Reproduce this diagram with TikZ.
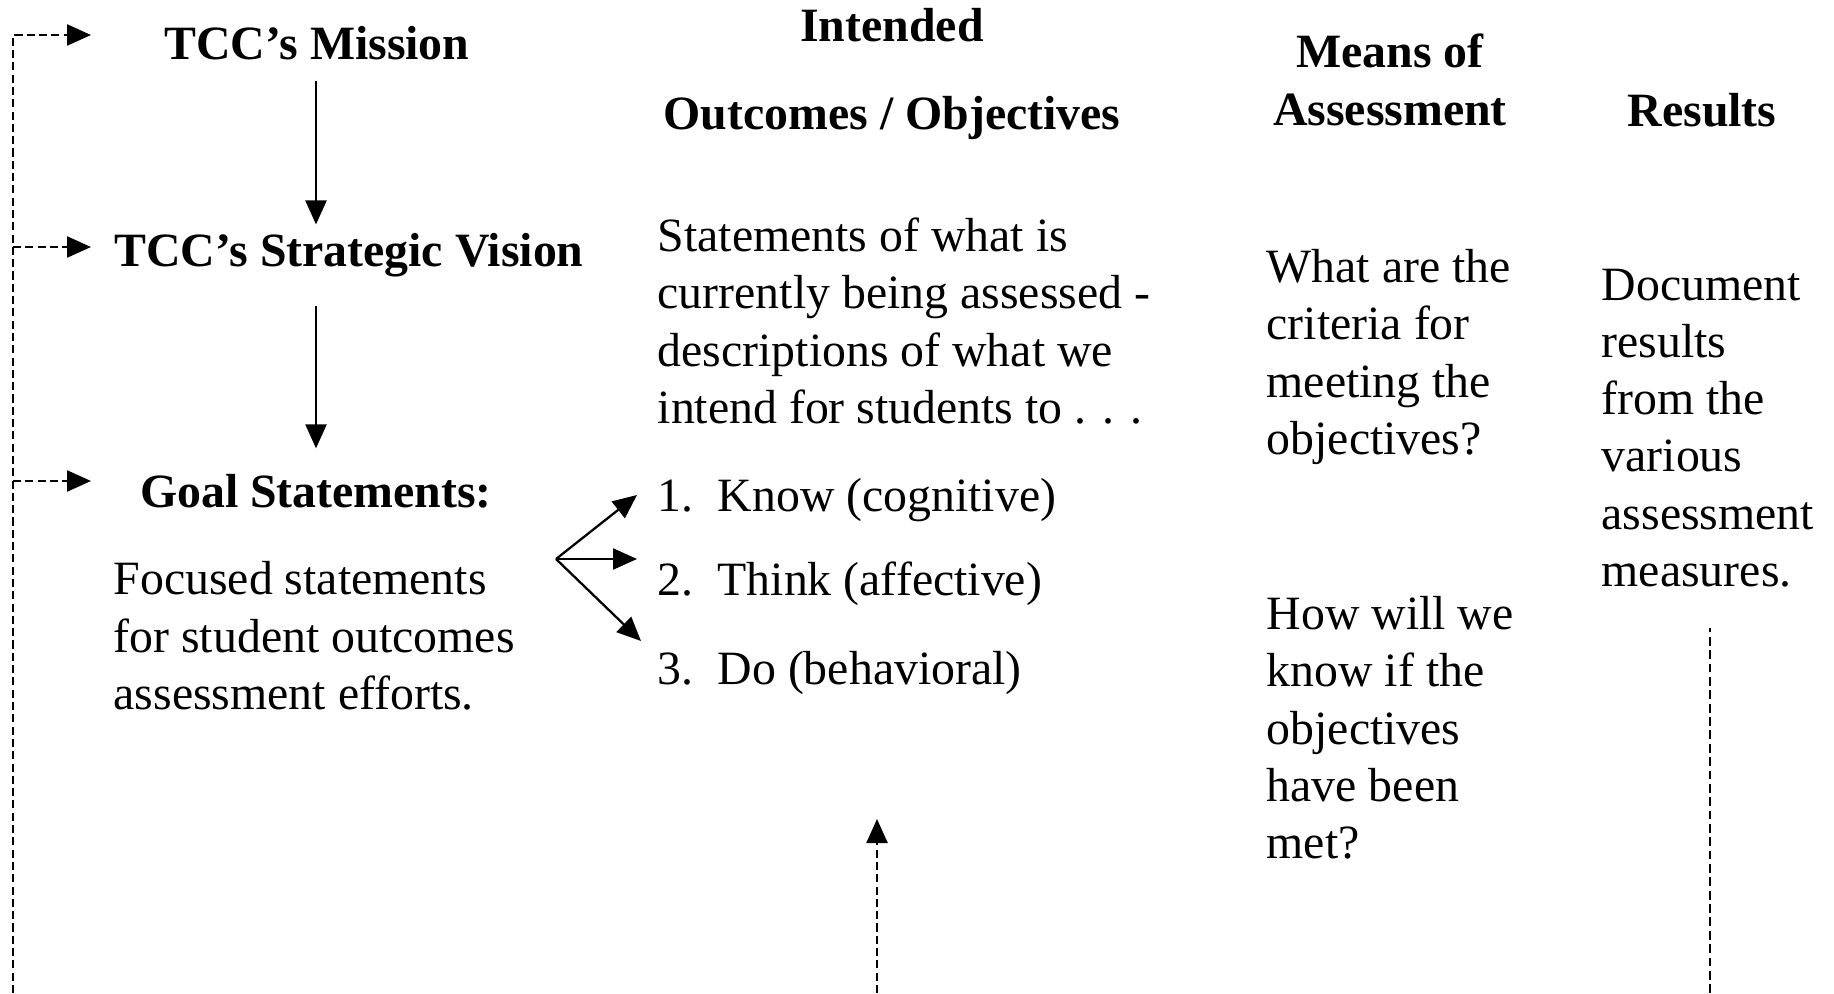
\documentclass[tikz,border=0pt]{standalone}
\usepackage{fontspec}
\setmainfont{Liberation Serif}
\usetikzlibrary{calc,arrows.meta}
\newcommand{\TxtSize}{\fontsize{13.6}{16.3}\selectfont}
\newcommand{\ListNum}[2]{\makebox[0.6cm][l]{#1}#2}
\tikzset{
  head/.style={font=\bfseries\TxtSize,inner sep=0pt,align=center},
  body/.style={font=\TxtSize,inner sep=0pt,align=left,anchor=west},
  flow/.style={-{Triangle[length=0.24cm,width=0.21cm]},line width=0.65pt},
  fback/.style={flow,line width=0.7pt,dash pattern=on 2.3pt off 1.2pt},
  guide/.style={line width=0.7pt,dash pattern=on 2.5pt off 1.3pt}
}

\begin{document}
\begin{tikzpicture}
\useasboundingbox (0,0) rectangle (18.34,-9.93);
\node[head] (mission) at (3.17,-0.43) {TCC’s Mission};
\node[head] (vision) at (3.49,-2.55) {TCC’s Strategic Vision};
\node[head] (goal) at (3.16,-4.91) {Goal Statements:};
\node[body] (focus) at (1.13,-6.36) {Focused statements\\for student outcomes\\assessment efforts.};
\node[head] (intended) at (8.92,-0.74) {Intended\\[9pt]Outcomes / Objectives};
\node[body] (stmts) at (6.57,-3.21) {Statements of what is\\currently being assessed -\\descriptions of what we\\intend for students to . . .};
\node[body] (k1) at (6.57,-5.00) {\ListNum{1.}{Know (cognitive)}};
\node[body] (k2) at (6.57,-5.84) {\ListNum{2.}{Think (affective)}};
\node[body] (k3) at (6.57,-6.73) {\ListNum{3.}{Do (behavioral)}};
\node[head] (means) at (13.90,-0.80) {Means of\\Assessment};
\node[body] (what) at (12.66,-3.57) {What are the\\criteria for\\meeting the\\objectives?};
\node[body] (how) at (12.66,-7.28) {How will we\\know if the\\objectives\\have been\\met?};
\node[head] (results) at (17.02,-1.10) {Results};
\node[body] (doc) at (16.01,-4.28) {Document\\results\\from the\\various\\assessment\\measures.};
\draw[flow,shorten <=0.2cm,shorten >=0.08cm] (mission.south -| goal) -- (vision.north -| goal);
\draw[flow,shorten <=0.28cm,shorten >=0.25cm] (vision.south -| goal) -- (goal.north);
\coordinate (fork) at (5.56,-5.59);
\coordinate (t1) at (6.37,-4.95);
\coordinate (t2) at (6.37,-5.59);
\coordinate (t3) at (6.41,-6.41);
\foreach \t in {t1,t2,t3}
  \draw[flow] (fork) -- (\t);
\coordinate (loopB) at (0.13,-9.93);
\coordinate (inM) at (0.91,-0.35);
\coordinate (inV) at (0.91,-2.47);
\coordinate (inG) at (0.91,-4.81);
\draw[fback] (loopB) |- (inM);
\draw[fback] (loopB |- inV) -- (inV);
\draw[fback] (loopB |- inG) -- (inG);
\coordinate (upB) at (8.77,-9.93);
\coordinate (upT) at (8.77,-8.19);
\draw[fback] (upB) -- (upT);
\coordinate (resB) at (17.10,-9.93);
\coordinate (resT) at (17.10,-6.28);
\draw[guide] (resB) -- (resT);
\end{tikzpicture}
\end{document}
